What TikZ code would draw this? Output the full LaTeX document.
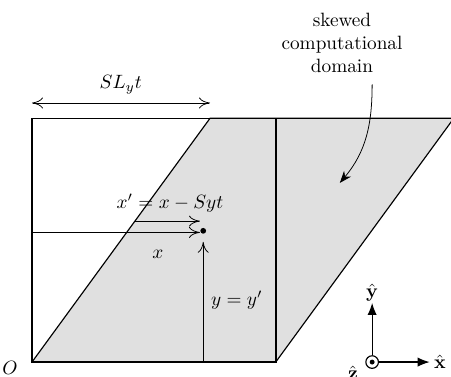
\documentclass[tikz,border=0pt]{standalone}
\usetikzlibrary{arrows.meta}
\begin{document}
\begin{tikzpicture}[
  >={To[length=2mm,width=2mm]},
  axis/.style={semithick,-{Latex[length=2.2mm,width=1.7mm]}},
  skewfill/.style={fill=black!12},
]
\useasboundingbox (-0.584,-0.255) rectangle (7.65,6.61);
% box and skewed domain
\coordinate (O) at (0,0);
\coordinate (BR) at (4.45,0);
\coordinate (TR) at (4.45,4.45);
\coordinate (SL) at (3.25,4.45);
\coordinate (SR) at (7.70,4.45);
\fill[skewfill] (O) -- (BR) -- (SR) -- (SL) -- cycle;
\draw[semithick] (O) -- (SL) -- (SR) -- (BR);
\draw[thick] (O) rectangle (TR);
\node (lbO) at (-0.40,-0.11) {$O$};
% shift length
\coordinate (La) at (0,4.73);
\coordinate (Lb) at (3.25,4.73);
\draw[<->] (La) -- (Lb);
\node (lbL) at (1.62,5.06) {$SL_yt$};
% point and coordinates
\node[circle,fill,inner sep=0pt,minimum size=3pt] (P) at (3.126,2.396) {};
\coordinate (xs) at (0,2.367);
\coordinate (xps) at (1.879,2.573);
\draw[->] (xs) -- (xs -| P.west);
\draw[->] (xps) -- (xps -| P.west);
\draw[->,shorten >=4pt] (P |- O) -- (P.south);
\node (lbxp) at (2.52,2.90) {$x' = x - Syt$};
\node (lbx) at (2.30,1.97) {$x$};
\node (lby) at (3.74,1.13) {$y = y'$};
% label of domain
\node[align=center] (dom) at (5.66,5.82) {skewed\\computational\\domain};
\coordinate (da) at (6.21,5.07);
\coordinate (db) at (5.62,3.27);
\draw[-{Stealth[length=2.2mm]}] (da) to[out=-90,in=50] (db);
% unit vectors
\node[circle,draw,semithick,inner sep=0pt,minimum size=0.23cm] (ez) at (6.21,0) {};
\fill (ez) circle (0.045);
\coordinate (ex) at (7.26,0);
\coordinate (ey) at (6.21,1.08);
\draw[axis] (ez.east) -- (ex);
\draw[axis] (ez.north) -- (ey);
\node (lx) at (7.45,0) {$\hat{\mathbf{x}}$};
\node (ly) at (6.21,1.26) {$\hat{\mathbf{y}}$};
\node (lz) at (5.86,-0.19) {$\hat{\mathbf{z}}$};
\end{tikzpicture}
\end{document}
